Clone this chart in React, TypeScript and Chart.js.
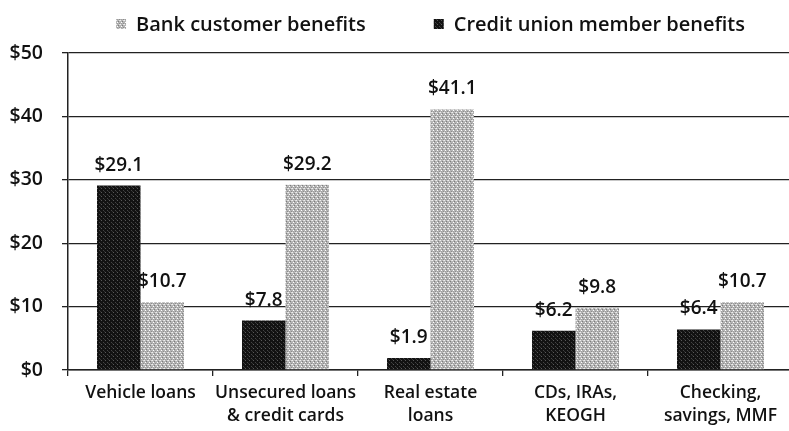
import React, { useEffect, useRef } from "react";
import { Chart, registerables } from "chart.js";

Chart.register(...registerables);

const categories: string[][] = [
  ["Vehicle loans"],
  ["Unsecured loans", "& credit cards"],
  ["Real estate", "loans"],
  ["CDs, IRAs,", "KEOGH"],
  ["Checking,", "savings, MMF"],
];
const creditUnionValues = [29.1, 7.8, 1.9, 6.2, 6.4];
const bankValues = [10.7, 29.2, 41.1, 9.8, 10.7];
const seriesNames = ["Credit union member benefits", "Bank customer benefits"];
const yTicks = [0, 10, 20, 30, 40, 50];

const FONT = "'Open Sans', Lato, sans-serif";

function makePattern(base: string, dots: [number, number, string][]): CanvasPattern | string {
  const c = document.createElement("canvas");
  c.width = 4;
  c.height = 4;
  const g = c.getContext("2d");
  if (!g) return base;
  g.fillStyle = base;
  g.fillRect(0, 0, 4, 4);
  dots.forEach(([x, y, col]) => {
    g.fillStyle = col;
    g.fillRect(x, y, 1, 1);
  });
  return g.createPattern(c, "repeat") || base;
}

export default function App() {
  const ref = useRef<HTMLCanvasElement | null>(null);

  useEffect(() => {
    if (!ref.current) return;
    const dark = makePattern("#121212", [
      [1, 0, "#585858"],
      [3, 2, "#444"],
      [0, 3, "#333"],
    ]);
    const light = makePattern("#b4b4b4", [
      [0, 0, "#eeeeee"],
      [2, 1, "#7c7c7c"],
      [1, 2, "#ffffff"],
      [3, 3, "#8c8c8c"],
      [3, 0, "#dddddd"],
      [1, 3, "#a0a0a0"],
    ]);

    const valueLabels = {
      id: "valueLabels",
      afterDatasetsDraw(chart: any) {
        const ctx = chart.ctx;
        ctx.save();
        ctx.font = `600 19px ${FONT}`;
        ctx.fillStyle = "#111";
        ctx.textAlign = "center";
        ctx.textBaseline = "alphabetic";
        chart.data.datasets.forEach((ds: any, i: number) => {
          const meta = chart.getDatasetMeta(i);
          meta.data.forEach((bar: any, j: number) => {
            ctx.fillText("$" + Number(ds.data[j]).toFixed(1), bar.x, bar.y - 15);
          });
        });
        ctx.restore();
      },
    };

    const customLegend = {
      id: "customLegend",
      afterDraw(chart: any) {
        const ctx = chart.ctx;
        ctx.save();
        ctx.font = `600 20px ${FONT}`;
        ctx.textBaseline = "middle";
        ctx.textAlign = "left";
        const order = [1, 0];
        const box = 10;
        const gapBox = 10;
        const gapItem = 68;
        const widths = order.map((i) => box + gapBox + ctx.measureText(chart.data.datasets[i].label).width);
        const total = widths.reduce((a: number, b: number) => a + b, 0) + gapItem;
        const area = chart.chartArea;
        let x = (area.left + area.right) / 2 - total / 2;
        const y = 24;
        order.forEach((i, k) => {
          const ds = chart.data.datasets[i];
          ctx.fillStyle = ds.backgroundColor;
          ctx.fillRect(x, y - box / 2, box, box);
          ctx.fillStyle = "#111";
          ctx.fillText(ds.label, x + box + gapBox, y + 1);
          x += widths[k] + gapItem;
        });
        ctx.restore();
      },
    };

    const chart = new Chart(ref.current, {
      type: "bar",
      data: {
        labels: categories,
        datasets: [
          { label: seriesNames[0], data: creditUnionValues, backgroundColor: dark as any, borderWidth: 0 },
          { label: seriesNames[1], data: bankValues, backgroundColor: light as any, borderWidth: 0 },
        ],
      },
      options: {
        animation: false,
        responsive: false,
        maintainAspectRatio: false,
        layout: { padding: { top: 53, right: 4, left: 0, bottom: 0 } },
        plugins: {
          legend: { display: false },
          tooltip: { enabled: false },
        },
        datasets: { bar: { categoryPercentage: 0.6, barPercentage: 1 } },
        scales: {
          x: {
            grid: { display: true, drawOnChartArea: false, drawTicks: true, tickLength: 6, color: "#222", lineWidth: 1.3 },
            border: { display: true, color: "#222", width: 1.5 },
            ticks: { color: "#111", font: { family: FONT, size: 17.5, weight: "600", lineHeight: 1.3 }, padding: 6, maxRotation: 0, autoSkip: false },
            afterFit(scale: any) {
              scale.height = 61;
            },
          },
          y: {
            min: yTicks[0],
            max: yTicks[yTicks.length - 1],
            afterBuildTicks(scale: any) {
              scale.ticks = yTicks.map((v) => ({ value: v }));
            },
            grid: { color: "#222", lineWidth: 1.3, tickLength: 6, drawTicks: true },
            border: { display: true, color: "#222", width: 1.5 },
            ticks: {
              color: "#111",
              font: { family: FONT, size: 19.5, weight: "600" },
              padding: 19,
              callback: (v: any) => "$" + v,
            },
            afterFit(scale: any) {
              scale.width = 68;
            },
          },
        },
      },
      plugins: [valueLabels, customLegend],
    });
    return () => chart.destroy();
  }, []);

  return (
    <div style={{ position: "fixed", left: 0, top: 0, width: 789, height: 431, overflow: "hidden", background: "#fff" }}>
      <canvas ref={ref} width={797} height={431} style={{ display: "block" }} />
    </div>
  );
}
